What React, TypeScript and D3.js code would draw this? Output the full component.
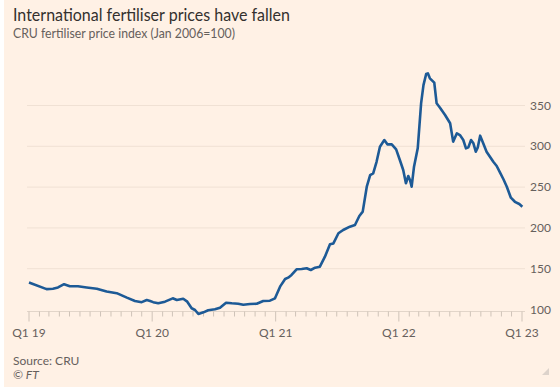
import React, { useEffect, useRef } from 'react';
import * as d3 from 'd3';

// CRU fertiliser price index
const dates = [
  '2019-01-01', '2019-02-22', '2019-03-13', '2019-03-28', '2019-04-15', '2019-05-02',
  '2019-05-26', '2019-06-21', '2019-07-21', '2019-08-19', '2019-09-18', '2019-10-18',
  '2019-11-11', '2019-12-01', '2019-12-16', '2019-12-26', '2020-01-04', '2020-01-19',
  '2020-02-08', '2020-03-02', '2020-03-14', '2020-04-02', '2020-04-14', '2020-04-27',
  '2020-05-07', '2020-05-17', '2020-06-01', '2020-06-15', '2020-07-05', '2020-07-20',
  '2020-08-07', '2020-08-24', '2020-09-12', '2020-09-27', '2020-10-17', '2020-11-06',
  '2020-11-25', '2020-12-15', '2020-12-30', '2021-01-14', '2021-01-29', '2021-02-07',
  '2021-02-17', '2021-03-04', '2021-03-19', '2021-04-03', '2021-04-15', '2021-04-28',
  '2021-05-12', '2021-05-27', '2021-06-11', '2021-06-21', '2021-07-06', '2021-07-20',
  '2021-08-09', '2021-08-24', '2021-09-06', '2021-09-16', '2021-09-28', '2021-10-08',
  '2021-10-17', '2021-10-27', '2021-11-06', '2021-11-19', '2021-11-28', '2021-12-11',
  '2021-12-24', '2022-01-04', '2022-01-14', '2022-01-22', '2022-01-29', '2022-02-03',
  '2022-02-08', '2022-02-15', '2022-02-26', '2022-03-08', '2022-03-15', '2022-03-23',
  '2022-03-28', '2022-04-03', '2022-04-16', '2022-04-23', '2022-05-03', '2022-05-18',
  '2022-06-02', '2022-06-11', '2022-06-22', '2022-07-01', '2022-07-11', '2022-07-19',
  '2022-07-26', '2022-08-03', '2022-08-10', '2022-08-17', '2022-08-23', '2022-08-30',
  '2022-09-08', '2022-09-18', '2022-09-28', '2022-10-08', '2022-10-18', '2022-10-28',
  '2022-11-07', '2022-11-17', '2022-11-29', '2022-12-11', '2022-12-24', '2023-01-02',
];

const values = [
  133, 125, 125.5, 127, 131, 128.5,
  128.5, 127, 125.5, 122, 120, 114.5,
  110.5, 109, 111.6, 110.4, 109, 107.6,
  109.6, 113.7, 111.6, 113.2, 109.6, 101.5,
  99.4, 94.5, 96.5, 99, 100.2, 102.2,
  108.3, 107.6, 107.1, 105.9, 106.7, 107.1,
  110.4, 110.8, 113.7, 128, 137.4, 139,
  142.3, 149.3, 149.6, 150.5, 148.4, 151.2,
  152.5, 164.7, 179.9, 181, 193.4, 197.4,
  201.5, 203.6, 214.6, 219.9, 250.5, 264.8,
  266.9, 281, 299.5, 307.7, 302.4, 302.4,
  296.3, 283.2, 271, 254.7, 263.6, 258.7,
  250.5, 275, 297.5, 352.7, 375, 388.6,
  389.4, 383.3, 378, 352.7, 347.3, 338.4,
  328.2, 305.7, 315.9, 313.8, 307.7, 297.5,
  298.7, 307.7, 303.7, 293.4, 298.7, 313,
  303.7, 293.4, 287.3, 281.1, 275.9, 267.7,
  259.6, 250.5, 237, 232, 229.3, 226,
];

const yTicks = [100, 150, 200, 250, 300, 350];
const xTickLabels = ['Q1 19', 'Q1 20', 'Q1 21', 'Q1 22', 'Q1 23'];
const xTickDates = ['2019-01-01', '2020-01-01', '2021-01-01', '2022-01-01', '2023-01-01'];

const title = 'International fertiliser prices have fallen';
const subtitle = 'CRU fertiliser price index (Jan 2006=100)';

function App() {
  const chartRef = useRef<SVGSVGElement>(null);

  useEffect(() => {
    const width = 560;
    const height = 391;
    const font = 'Lato, "Noto Sans", sans-serif';
    const grey = '#66605c';

    const svg = d3.select(chartRef.current)
      .attr('width', width)
      .attr('height', height);
    svg.selectAll('*').remove();

    const parse = d3.utcParse('%Y-%m-%d');
    const data = dates.map((d, i) => ({ date: parse(d) as Date, value: values[i] }));

    const x = d3.scaleUtc()
      .domain([parse('2019-01-01') as Date, parse('2023-01-01') as Date])
      .range([29, 522]);
    const y = d3.scaleLinear().domain([100, 350]).range([309.5, 105.5]);

    svg.append('rect')
      .attr('width', width)
      .attr('height', height)
      .attr('fill', '#ffffff');
    svg.append('rect')
      .attr('x', 4)
      .attr('width', width - 4)
      .attr('height', 387)
      .attr('fill', '#fff1e5');

    // titles
    svg.append('text')
      .attr('x', 13).attr('y', 21)
      .attr('textLength', 277).attr('lengthAdjust', 'spacingAndGlyphs')
      .style('font-family', font).style('font-size', '17px')
      .attr('fill', '#33302e')
      .text(title);
    svg.append('text')
      .attr('x', 13).attr('y', 38)
      .attr('textLength', 222).attr('lengthAdjust', 'spacingAndGlyphs')
      .style('font-family', font).style('font-size', '12.5px')
      .attr('fill', grey)
      .text(subtitle);

    // gridlines + y labels
    const g = svg.append('g');
    g.selectAll('line.grid')
      .data(yTicks.filter(d => d !== 100))
      .enter()
      .append('line')
      .attr('x1', 27).attr('x2', 525)
      .attr('y1', d => y(d)).attr('y2', d => y(d))
      .attr('stroke', '#f0e1d4')
      .attr('stroke-width', 1);
    g.selectAll('text.ylab')
      .data(yTicks)
      .enter()
      .append('text')
      .attr('x', 530)
      .attr('y', d => y(d) + 4)
      .style('font-family', font).style('font-size', '12px')
      .attr('fill', grey)
      .text(d => d);

    // x axis: monthly ticks, longer at each year
    const axisY = 311.5;
    g.append('line')
      .attr('x1', 27).attr('x2', 525)
      .attr('y1', axisY).attr('y2', axisY)
      .attr('stroke', '#e2d5c9');
    const months = d3.utcMonth.range(x.domain()[0], d3.utcMonth.offset(x.domain()[1], 1));
    g.selectAll('line.tick')
      .data(months)
      .enter()
      .append('line')
      .attr('x1', d => x(d)).attr('x2', d => x(d))
      .attr('y1', axisY)
      .attr('y2', d => (d.getUTCMonth() === 0 ? axisY + 10 : axisY + 5))
      .attr('stroke', '#cfc3b8');
    g.selectAll('text.xlab')
      .data(xTickDates)
      .enter()
      .append('text')
      .attr('x', d => x(parse(d) as Date))
      .attr('y', 337)
      .attr('text-anchor', 'middle')
      .style('font-family', font).style('font-size', '12px')
      .attr('fill', grey)
      .text((d, i) => xTickLabels[i]);

    // the line
    const line = d3.line<{ date: Date; value: number }>()
      .x(d => x(d.date))
      .y(d => y(d.value));
    svg.append('path')
      .datum(data)
      .attr('d', line)
      .attr('fill', 'none')
      .attr('stroke', '#1d5a96')
      .attr('stroke-width', 2.6)
      .attr('stroke-linejoin', 'round');

    // footer
    svg.append('text')
      .attr('x', 13).attr('y', 365)
      .style('font-family', font).style('font-size', '12px')
      .attr('fill', grey)
      .text('Source: CRU');
    svg.append('text')
      .attr('x', 13).attr('y', 379)
      .style('font-family', font).style('font-size', '12px')
      .style('font-style', 'italic')
      .attr('fill', grey)
      .text('© FT');

    svg.append('path')
      .attr('d', 'M549,368 L549,375 L542,375 Z')
      .attr('fill', '#ddd3cb');
  }, []);

  return (
    <div style={{ position: 'absolute', left: 0, top: 0 }}>
      <svg ref={chartRef} style={{ display: 'block' }}></svg>
    </div>
  );
}

export default App;
